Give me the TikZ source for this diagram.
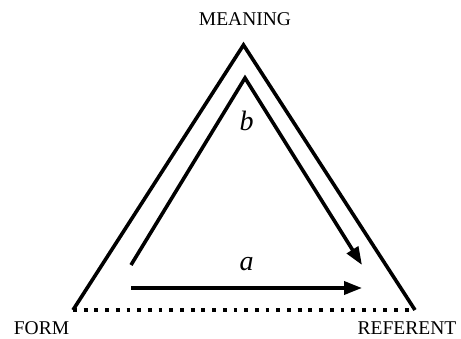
\documentclass[tikz,border=0pt]{standalone}
\usepackage{fontspec}
\setmainfont{Liberation Serif}
\usetikzlibrary{arrows.meta}
\begin{document}
\begin{tikzpicture}[x=1pt,y=1pt,
  thick line/.style={line width=3.6pt,line join=miter},
  arr/.style={thick line,-{Triangle[length=18pt,width=13pt]}},
  dotline/.style={line width=3.8pt,dash pattern=on 3.8pt off 6.9pt},
  caps/.style={font=\fontsize{19.5}{20}\selectfont,inner sep=0pt,anchor=base},
  lab/.style={font=\fontsize{28}{30}\selectfont\itshape,inner sep=0pt,anchor=base}]
\useasboundingbox (0,0) rectangle (461,338);
\coordinate (O) at (243.5,293);
\coordinate (L) at (73,28);
\coordinate (R) at (415,28);
\coordinate (S) at (131,73);
\coordinate (I) at (245,260);
\coordinate (E) at (362,73);
\coordinate (A1) at (131,50);
\coordinate (A2) at (362,50);
\draw[thick line] (L) -- (O) -- (R);
\draw[dotline] (L) -- (R);
\draw[arr] (S) -- (I) -- (E);
\draw[arr] (A1) -- (A2);
\node[caps] (meaning) at (245,312) {MEANING};
\node[caps] (form) at (41.5,4) {FORM};
\node[caps] (referent) at (407,4) {REFERENT};
\node[lab] (b) at (246.5,207.5) {b};
\node[lab] (a) at (246.5,68) {a};
\end{tikzpicture}
\end{document}
